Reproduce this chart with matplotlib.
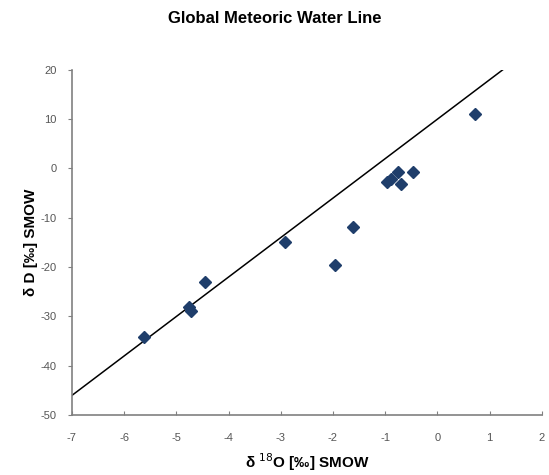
import matplotlib
matplotlib.use("Agg")
import matplotlib.pyplot as plt
import numpy as np

plt.rcParams['font.family'] = ['Liberation Sans', 'DejaVu Sans']

# Sample data (δ18O, δD)
d18O = [-5.61, -4.76, -4.71, -4.46, -2.92, -1.96, -1.62, -0.96, -0.88, -0.76, -0.69, -0.46, 0.72]
dD = [-34.1, -28.0, -28.8, -23.1, -14.8, -19.5, -11.8, -2.7, -2.2, -0.7, -3.1, -0.7, 11.0]

# Global Meteoric Water Line: dD = 8 * d18O + 10
gmwl_slope = 8
gmwl_intercept = 10
gmwl_x = [-7, 1.25]

x_ticks = [-7, -6, -5, -4, -3, -2, -1, 0, 1, 2]
y_ticks = [-50, -40, -30, -20, -10, 0, 10, 20]

fig = plt.figure(figsize=(5.49, 4.75), dpi=100)
ax = fig.add_axes([0.131, 0.126, 0.856, 0.727])

lx = np.array(gmwl_x)
ax.plot(lx, gmwl_slope * lx + gmwl_intercept, color='black', lw=1.1, zorder=2)
ax.plot(d18O, dD, linestyle='none', marker='D', markersize=6.3,
        color='#1f3e6b', markeredgecolor='#1f3e6b', zorder=3)

ax.set_xlim(-7, 2)
ax.set_ylim(-50, 20)
ax.set_xticks(x_ticks)
ax.set_yticks(y_ticks)
ax.set_xticklabels([str(v) for v in x_ticks])
ax.set_yticklabels([str(v) for v in y_ticks])

for s in ['top', 'right']:
    ax.spines[s].set_visible(False)
for s in ['left', 'bottom']:
    ax.spines[s].set_color('#808080')
    ax.spines[s].set_linewidth(1.2)

ax.tick_params(axis='x', direction='in', length=3, color='#808080',
               labelsize=8, labelcolor='#555555', pad=13)
ax.tick_params(axis='y', direction='out', length=3, color='#808080',
               labelsize=8, labelcolor='#555555', pad=8)

fig.text(0.5, 0.962, 'Global Meteoric Water Line', ha='center', va='center',
         fontsize=12, fontweight='bold')
ax.set_xlabel('δ $^{18}$O [‰] SMOW', fontsize=11, fontweight='bold', labelpad=6)
ax.set_ylabel('δ D [‰] SMOW', fontsize=11, fontweight='bold', labelpad=2)

fig.savefig('out.png', dpi=100)
